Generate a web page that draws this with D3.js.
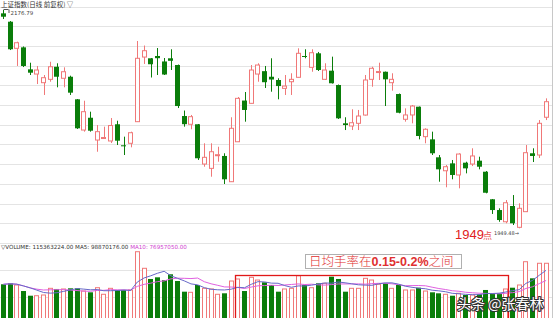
<!DOCTYPE html>
<html>
<head>
<meta charset="utf-8">
<script src="https://d3js.org/d3.v7.min.js"></script>
<style>
  body { margin: 0; background: #fff; }
  svg { display: block; }
</style>
</head>
<body>
<script>
// 日K数据 (上证指数, 前复权)
var opens  = [2173.3,2164.6,2136.9,2137.9,2115.0,2110.1,2101.1,2104.6,2117.7,2105.7,
              2107.3,2083.8,2051.8,2064.6,2041.4,2043.2,2040.4,2057.8,2035.9,2038.0,
              2060.5,2127.8,2126.5,2128.9,2123.2,2126.5,2119.5,2066.4,2057.8,2057.8,
              2016.4,2011.9,2025.5,2024.8,1998.0,2039.6,2082.5,2079.6,2110.1,2113.1,
              2107.3,2103.9,2095.2,2102.1,2106.7,2128.9,2117.1,2131.7,2104.6,2113.6,
              2098.7,2058.8,2056.0,2058.8,2067.4,2104.6,2112.2,2112.5,2101.1,2089.3,
              2063.0,2067.5,2076.1,2044.9,2042.1,2023.4,2009.4,2017.1,2005.0,2017.8,
              2016.4,2019.9,2008.4,1979.7,1968.5,1956.3,1972.7,1950.5,1966.8,2027.6,
              2025.8,2065.1];
var closes = [2169.8,2135.9,2142.7,2118.5,2111.5,2114.3,2106.3,2117.7,2107.3,2112.5,
              2090.7,2053.6,2070.9,2051.1,2050.1,2044.0,2056.5,2040.7,2035.2,2049.0,
              2126.5,2134.4,2120.3,2126.6,2109.6,2123.9,2076.8,2057.9,2065.7,2022.4,
              2023.4,2029.2,2026.1,2000.5,2053.6,2084.8,2072.7,2114.3,2119.5,2101.6,
              2104.4,2097.6,2097.6,2104.6,2131.7,2128.1,2132.3,2114.3,2114.3,2100.5,
              2064.0,2057.0,2059.4,2066.4,2103.9,2116.1,2112.7,2104.6,2104.6,2069.8,
              2067.5,2076.8,2045.6,2052.6,2027.6,2010.9,2013.6,2005.0,2026.8,2011.9,
              2024.8,2013.6,1986.5,1968.5,1958.1,1976.1,1954.7,1970.3,2028.2,2024.8,
              2058.8,2081.3];
var highs  = [2176.8,2165.3,2143.8,2138.8,2121.9,2118.5,2109.1,2122.9,2121.3,2117.1,
              2108.4,2084.1,2082.3,2070.9,2057.0,2055.3,2064.3,2061.5,2044.9,2050.1,
              2144.5,2139.8,2126.8,2137.2,2126.8,2135.9,2120.0,2072.1,2067.5,2058.1,
              2038.0,2038.0,2034.4,2027.6,2065.1,2086.2,2091.4,2119.5,2121.3,2118.5,
              2126.5,2105.7,2109.1,2110.9,2136.9,2135.9,2135.9,2133.1,2121.3,2128.2,
              2099.2,2065.1,2073.4,2072.7,2109.1,2117.7,2121.9,2112.7,2110.9,2089.8,
              2074.4,2077.9,2076.3,2053.6,2050.1,2025.8,2015.4,2020.6,2027.6,2018.8,
              2032.8,2024.0,2009.1,1980.0,1970.3,1978.9,1984.1,1975.5,2036.2,2032.8,
              2062.2,2084.8];
var lows   = [2167.4,2135.1,2118.5,2117.4,2109.1,2099.7,2088.3,2102.1,2096.3,2096.3,
              2088.3,2052.9,2050.1,2050.1,2029.2,2043.0,2038.3,2036.2,2025.8,2033.8,
              2060.2,2120.6,2106.5,2109.1,2109.1,2114.3,2074.7,2055.3,2052.6,2020.6,
              2013.6,2003.2,2018.8,1995.6,1997.7,2039.3,2060.5,2079.4,2102.1,2095.6,
              2091.7,2083.8,2088.3,2088.3,2106.5,2126.5,2112.5,2113.3,2103.9,2100.2,
              2063.3,2051.8,2051.8,2051.8,2066.9,2096.9,2103.9,2076.8,2092.8,2069.2,
              2060.5,2058.8,2042.1,2038.0,2025.8,1998.0,1992.2,2000.5,1991.1,2006.7,
              2014.3,2010.9,1985.9,1964.4,1956.3,1954.7,1952.9,1949.48,1966.4,2018.5,
              2022.7,2062.2];
// 成交量 (百万)
var volumes = [71.1,73.2,69.6,56.9,47.0,47.0,48.5,62.6,61.2,61.2,
               62.6,62.6,56.9,54.2,63.9,50.0,62.6,59.1,59.1,59.1,
               139.8,104.8,82.3,85.8,80.1,92.2,78.0,55.5,54.2,69.6,
               62.6,61.2,50.0,52.1,78.0,82.3,56.9,85.8,80.1,75.3,
               69.6,55.5,61.2,62.6,89.2,69.6,63.9,73.2,73.2,87.1,
               82.3,55.5,62.6,62.6,83.7,80.1,71.1,73.2,62.6,69.6,
               59.1,59.1,63.9,56.9,54.2,52.1,50.0,47.0,52.1,48.5,
               48.5,50.0,59.1,52.1,52.1,61.2,63.9,69.6,118.7,83.7,
               115.4,115.4];
var priceHigh = 2176.79, priceLow = 1949.48;
var titleText = "上证指数(日线 前复权) ▽";

var W = 554, H = 318;
var red = "#f07878", green = "#0a7d0a", grid = "#e4e4e4";

var svg = d3.select("body").append("svg")
  .attr("width", W).attr("height", H)
  .style("font-family", "'Noto Sans CJK SC', 'DejaVu Sans', sans-serif");

var idx = d3.range(opens.length);
var x = d3.scaleBand().domain(idx).range([0, idx.length * 6.7]).paddingInner(0.25).paddingOuter(0.125);
var bw = x.bandwidth();
var y = d3.scaleLinear().domain([priceLow, priceHigh]).range([228.3, 10]);
var yv = d3.scaleLinear().domain([0, 115.363]).range([318, 263.3]);

// grid
svg.append("g").selectAll("line").data(d3.range(13)).enter().append("line")
  .attr("x1", 0).attr("x2", 552)
  .attr("y1", d => Math.round(6.5 + d * 19.7) + 0.5)
  .attr("y2", d => Math.round(6.5 + d * 19.7) + 0.5)
  .attr("stroke", grid);
svg.append("g").selectAll("line").data([270, 297]).enter().append("line")
  .attr("x1", 0).attr("x2", 552).attr("y1", d => d + 0.5).attr("y2", d => d + 0.5)
  .attr("stroke", grid);
svg.append("line").attr("x1", 552.5).attr("x2", 552.5).attr("y1", 0).attr("y2", H)
  .attr("stroke", "#c8c8c8");

// candles
var up = i => closes[i] >= opens[i];
var cx = i => Math.round(x(i) + bw / 2) + 0.5;
var candles = svg.append("g").selectAll("g").data(idx).enter().append("g");
candles.append("line")
  .attr("x1", cx).attr("x2", cx)
  .attr("y1", i => y(highs[i])).attr("y2", i => y(lows[i]))
  .attr("stroke", i => up(i) ? red : green);
candles.append("rect")
  .attr("x", i => up(i) ? Math.round(x(i)) + 0.5 : Math.round(x(i)))
  .attr("width", i => up(i) ? Math.round(bw) - 1 : Math.round(bw))
  .attr("y", i => y(Math.max(opens[i], closes[i])))
  .attr("height", i => Math.max(1, Math.abs(y(opens[i]) - y(closes[i]))))
  .attr("fill", i => up(i) ? "#fff" : green)
  .attr("stroke", i => up(i) ? red : "none");

// labels on price panel
svg.append("text").attr("x", 1).attr("y", 6.5).attr("font-size", 6.5).attr("fill", "#333")
  .text(titleText);
svg.append("line").attr("x1", cx(0)).attr("x2", cx(0) + 5)
  .attr("y1", y(priceHigh) - 0.5).attr("y2", y(priceHigh) - 0.5).attr("stroke", "#555");
svg.append("line").attr("x1", cx(0) + 5.5).attr("x2", cx(0) + 5.5)
  .attr("y1", y(priceHigh) - 0.5).attr("y2", y(priceHigh) + 3).attr("stroke", "#555");
svg.append("text").attr("x", cx(0) + 7).attr("y", y(priceHigh) + 4.5)
  .attr("font-size", 5.5).attr("fill", "#444").attr("font-family", "'DejaVu Sans', sans-serif")
  .text(priceHigh.toFixed(2));
svg.append("text").attr("x", 455).attr("y", 238.5).attr("font-size", 13)
  .attr("fill", "#e02020").attr("font-family", "'Liberation Sans', sans-serif")
  .text(String(Math.floor(priceLow)));
svg.append("text").attr("x", 483).attr("y", 238.5).attr("font-size", 9)
  .attr("fill", "#e85050").text("点");
svg.append("text").attr("x", 494).attr("y", y(priceLow) + 7)
  .attr("font-size", 5).attr("fill", "#444")
  .attr("font-family", "'DejaVu Sans', sans-serif")
  .text(priceLow.toFixed(2) + "→");

// volume panel
svg.append("g").selectAll("rect").data(idx).enter().append("rect")
  .attr("x", i => up(i) ? Math.round(x(i)) + 0.5 : Math.round(x(i)))
  .attr("width", i => up(i) ? Math.round(bw) - 1 : Math.round(bw))
  .attr("y", i => yv(volumes[i]))
  .attr("height", i => yv(0) - yv(volumes[i]) + 2)
  .attr("fill", i => up(i) ? "#fff" : green)
  .attr("stroke", i => up(i) ? red : "none");

function ma(n) {
  return idx.map(i => d3.mean(volumes.slice(Math.max(0, i - n + 1), i + 1)));
}
var ma5 = ma(5), ma10 = ma(10);
var vline = d3.line().x((d, i) => x(i) + bw / 2).y(d => yv(d));
svg.append("path").datum(ma10).attr("d", vline).attr("fill", "none")
  .attr("stroke", "#e060e0").attr("stroke-width", 1);
svg.append("path").datum(ma5).attr("d", vline).attr("fill", "none")
  .attr("stroke", "#6868c8").attr("stroke-width", 1);

var hdr = svg.append("text").attr("x", 1).attr("y", 249).attr("font-size", 5.6)
  .attr("font-family", "'DejaVu Sans', sans-serif").attr("fill", "#333");
hdr.append("tspan").text("▽VOLUME: 115363224.00 MA5: 98870176.00 ");
hdr.append("tspan").attr("fill", "#d040d0").text("MA10: 76957050.00");

// annotation: red box over the volume region
svg.append("rect")
  .attr("x", Math.round(x(35)) + 0.5).attr("y", 275.5)
  .attr("width", Math.round(x(75) + bw) - Math.round(x(35)))
  .attr("height", 60)
  .attr("fill", "none").attr("stroke", "#e01818").attr("stroke-width", 1.3);

svg.append("rect").attr("x", 305.5).attr("y", 254.5).attr("width", 156).attr("height", 14)
  .attr("fill", "#fff").attr("fill-opacity", 0.9).attr("stroke", "#b0b0b0");
var ann = svg.append("text").attr("x", 309).attr("y", 266).attr("font-size", 12.5)
  .attr("fill", "#e03030");
ann.append("tspan").attr("font-weight", 300).text("日均手率在");
ann.append("tspan").attr("font-weight", "bold").attr("font-family", "'Liberation Sans', sans-serif")
  .text("0.15-0.2%");
ann.append("tspan").attr("font-weight", 300).text("之间");

// watermark
svg.append("text").attr("x", 457).attr("y", 309).attr("font-size", 14)
  .attr("fill", "#fff").attr("stroke", "#333").attr("stroke-width", 2.2)
  .attr("paint-order", "stroke").attr("stroke-linejoin", "round")
  .text("头条 @张春林");
</script>
</body>
</html>
